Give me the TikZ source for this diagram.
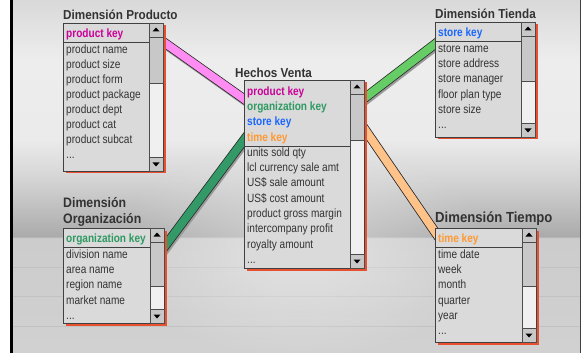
\documentclass[tikz,border=0pt]{standalone}
\usepackage{fontspec}
\setmainfont{Liberation Sans}[FakeStretch=0.84]
\newfontfamily\titlefont{Liberation Sans}[FakeStretch=0.9]
\usetikzlibrary{positioning,backgrounds,fadings}

\definecolor{boxgray}{HTML}{DADADA}
\definecolor{trackgray}{HTML}{F0F0F0}
\definecolor{btngray}{HTML}{C8C8C8}
\definecolor{shadowred}{HTML}{E8512F}
\definecolor{textgray}{HTML}{333333}
\definecolor{keypink}{HTML}{CC0099}
\definecolor{keygreen}{HTML}{2E9A62}
\definecolor{keyblue}{HTML}{1A66FF}
\definecolor{keyorange}{HTML}{FF9933}
\definecolor{bandpink}{HTML}{FF8CF2}
\definecolor{banddkgreen}{HTML}{339966}
\definecolor{bandltgreen}{HTML}{66CC66}
\definecolor{bandorange}{HTML}{FFC38A}

\tikzfading[name=wallglow, inner color=transparent!0, outer color=transparent!100]

\pgfdeclareverticalshading{wall}{100bp}{color(0bp)=(black!18); color(25bp)=(black!18);
  color(41.29bp)=(black!20); color(41.5bp)=(black!33); color(49.5bp)=(black!17);
  color(55.17bp)=(black!8); color(66.5bp)=(black!7); color(75bp)=(black!15); color(100bp)=(black!15)}

% scroll bar on the right side of a table box
\newcommand\tablescroll[2]{%
  \fill[trackgray] ([xshift=-14pt]#1.north east) rectangle (#1.south east);
  \draw[black!70] ([xshift=-14pt]#1.north east) -- ([xshift=-14pt]#1.south east);
  \draw[scrollbtn] ([xshift=-14pt]#1.north east) rectangle ([yshift=-14pt]#1.north east);
  \draw[scrollbtn] ([xshift=-14pt,yshift=-14pt]#1.north east) rectangle ([yshift=-14pt-#2]#1.north east);
  \draw[scrollbtn] ([xshift=-14pt,yshift=14pt]#1.south east) rectangle (#1.south east);
  \fill ([xshift=-7pt,yshift=-4.5pt]#1.north east) -- ++(-3.5pt,-4pt) -- ++(7pt,0pt) -- cycle;
  \fill ([xshift=-7pt,yshift=4.5pt]#1.south east) -- ++(-3.5pt,4pt) -- ++(7pt,0pt) -- cycle;
}

\begin{document}
\begin{tikzpicture}[x=1pt,y=-1pt,
  tablebox/.style={draw=black!75, line width=0.7pt, fill=boxgray, anchor=north west,
    inner sep=0pt, outer sep=0pt,
    preaction={fill=shadowred, draw=none, transform canvas={shift={(2.5pt,-2.5pt)}}}},
  scrollbtn/.style={fill=btngray, draw=black!70, line width=0.6pt},
  sepline/.style={draw=black!75, line width=0.9pt},
  row/.style={anchor=west, inner sep=0pt, text=textgray, text height=8.6pt, text depth=2pt,
    font=\fontsize{12}{14}\selectfont},
  keyrow/.style={row, font=\bfseries\fontsize{12}{14}\selectfont},
  title/.style={anchor=west, inner sep=0pt, text=textgray,
    font=\titlefont\bfseries\fontsize{13}{15}\selectfont},
  bigtitle/.style={title, font=\titlefont\bfseries\fontsize{13.7}{16}\selectfont},
  band/.style={line width=8pt,
    preaction={draw=black!40, line width=9.5pt, transform canvas={shift={(1.2pt,-1.8pt)}}},
    preaction={draw=black!85, line width=9.5pt}}]
\useasboundingbox (0,0) rectangle (582,353);

% Wall behind the tables
\begin{scope}[on background layer]
\fill[white] (0,0) rectangle (582,353);
\shade[shading=wall] (13,0) rectangle (580,353);
\foreach \y in {267,296,326}
  \draw[black!24, line width=0.6pt] (13,\y) -- (580,\y);
\fill[white, opacity=0.45, path fading=wallglow] (300,250) ellipse [x radius=190pt, y radius=110pt];
\fill[black] (10,0) rectangle (13,353);
\fill[black!75] (579.5,0) rectangle (580.5,353);
\end{scope}

% Dimension Producto
\node[title] (tprod) at (63,15) {Dimensión Producto};
\node[tablebox, minimum width=100pt, minimum height=148pt] (dimprod) at (63,23) {};
\draw[sepline] ([yshift=-19pt]dimprod.north west) -- ([xshift=-14pt,yshift=-19pt]dimprod.north east);
\tablescroll{dimprod}{46pt}
\node[keyrow, text=keypink] (prodkey) at (66,34) {product key};
\foreach \t [count=\i] in {product name,product size,product form,product package,product dept,product cat,product subcat}
  \node[row] (prod\i) at (66,{35+15*\i}) {\t};
\node[row] (prodmore) at (66,155) {...};

% Hechos Venta
\node[title] (tfacts) at (235,73) {Hechos Venta};
\node[tablebox, minimum width=120pt, minimum height=188pt] (facts) at (244,80) {};
\draw[sepline] ([yshift=-66pt]facts.north west) -- ([xshift=-14pt,yshift=-66pt]facts.north east);
\tablescroll{facts}{46pt}
\node[keyrow, text=keypink] (fkey1) at (247,92) {product key};
\node[keyrow, text=keygreen] (fkey2) at (247,107.3) {organization key};
\node[keyrow, text=keyblue] (fkey3) at (247,122.6) {store key};
\node[keyrow, text=keyorange] (fkey4) at (247,137.9) {time key};
\foreach \t [count=\i] in {units sold qty,lcl currency sale amt,US\$ sale amount,US\$ cost amount,product gross margin,intercompany profit,royalty amount}
  \node[row] (fact\i) at (247,{137.7+15.3*\i}) {\t};
\node[row] (factmore) at (247,260.1) {...};

% Dimension Tienda
\node[title] (tstore) at (435,14) {Dimensión Tienda};
\node[tablebox, minimum width=100pt, minimum height=115pt] (dimstore) at (435,22) {};
\draw[sepline] ([yshift=-19pt]dimstore.north west) -- ([xshift=-14pt,yshift=-19pt]dimstore.north east);
\tablescroll{dimstore}{45pt}
\node[keyrow, text=keyblue] (storekey) at (438,33) {store key};
\foreach \t [count=\i] in {store name,store address,store manager,floor plan type,store size}
  \node[row] (store\i) at (438,{34+15.2*\i}) {\t};
\node[row] (storemore) at (438,125.2) {...};

% Dimension Organizacion
\node[bigtitle] (torg1) at (63,203) {Dimensión};
\node[bigtitle] (torg2) at (63,220) {Organización};
\node[tablebox, minimum width=101pt, minimum height=95pt] (dimorg) at (63,228) {};
\draw[sepline] ([yshift=-19pt]dimorg.north west) -- ([xshift=-14pt,yshift=-19pt]dimorg.north east);
\tablescroll{dimorg}{44pt}
\node[keyrow, text=keygreen] (orgkey) at (66,239) {organization key};
\foreach \t [count=\i] in {division name,area name,region name,market name}
  \node[row] (org\i) at (66,{239.5+15.3*\i}) {\t};
\node[row] (orgmore) at (66,316) {...};

% Dimension Tiempo
\node[bigtitle, font=\titlefont\bfseries\fontsize{14.6}{17}\selectfont] (ttime) at (435,219) {Dimensión Tiempo};
\node[tablebox, minimum width=101pt, minimum height=114pt] (dimtime) at (435,228) {};
\draw[sepline] ([yshift=-19pt]dimtime.north west) -- ([xshift=-14pt,yshift=-19pt]dimtime.north east);
\tablescroll{dimtime}{44pt}
\node[keyrow, text=keyorange] (timekey) at (438,239) {time key};
\foreach \t [count=\i] in {time date,week,month,quarter,year}
  \node[row] (time\i) at (438,{239.5+15.3*\i}) {\t};
\node[row] (timemore) at (438,331.3) {...};

% Links from the facts to the dimensions
\begin{scope}[on background layer]
\draw[band, draw=bandpink] ([shift={(-3pt,-16.5pt)}]dimprod.north east) -- ([shift={(5pt,-22.5pt)}]facts.north west);
\draw[band, draw=banddkgreen] ([shift={(-3pt,-23.4pt)}]dimorg.north east) -- ([shift={(4pt,-54.6pt)}]facts.north west);
\draw[band, draw=bandltgreen] ([shift={(-3pt,-20.8pt)}]facts.north east) -- ([shift={(5pt,-18.2pt)}]dimstore.north west);
\draw[band, draw=bandorange] ([shift={(-3pt,-43.7pt)}]facts.north east) -- ([shift={(4pt,-9.8pt)}]dimtime.north west);
\end{scope}
\end{tikzpicture}
\end{document}
